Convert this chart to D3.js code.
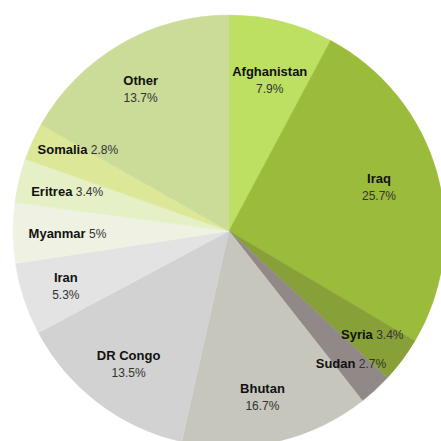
<!DOCTYPE html>
<html>
<head>
<meta charset="utf-8">
<script src="https://cdn.jsdelivr.net/npm/d3@7"></script>
<style>
  html, body { margin: 0; padding: 0; background: #ffffff; }
  svg { display: block; }
</style>
</head>
<body>
<svg id="chart" width="441" height="441"></svg>
<script>
// Categories in drawing order (clockwise from 12 o'clock)
const categories = ["Afghanistan", "Iraq", "Syria", "Sudan", "Bhutan", "DR Congo", "Iran", "Myanmar", "Eritrea", "Somalia", "Other"];
// Slice sizes as drawn in the picture (percent of the circle)
const sliceValues = [7.8, 25.7, 3.4, 2.5, 14.1, 13.7, 5.4, 4.5, 3.3, 2.8, 16.8];
// Percent labels as printed on the chart
const percentLabels = ["7.9%", "25.7%", "3.4%", "2.7%", "16.7%", "13.5%", "5.3%", "5%", "3.4%", "2.8%", "13.7%"];
// Whether the label is on one line (name + value) or two lines
const singleLine = [false, false, true, true, false, false, false, true, true, true, false];
const colors = ["#bddf62", "#9bbb3b", "#87a037", "#918888", "#c6c6bd", "#d2d2d2", "#e3e3e3", "#eff2e3", "#e5f0c6", "#dce797", "#cbdb98"];

// Layout: label placement (fraction of radius, small angle nudge in degrees)
const labelRadiusFrac = [0.727, 0.725, 0.817, 0.833, 0.778, 0.768, 0.796, 0.748, 0.772, 0.796, 0.778];
const labelAngleNudge = [1, -1, -1, 0, 1.3, 0, 0, -0.2, 0.4, 4, -1.5];

const svg = d3.select("#chart");
const cx = 229, cy = 231, R = 216;

const data = categories.map((c, i) => ({ name: c, value: sliceValues[i], pct: percentLabels[i], single: singleLine[i], color: colors[i], lr: labelRadiusFrac[i], ln: labelAngleNudge[i] }));

const pie = d3.pie().sort(null).value(d => d.value).startAngle(0).endAngle(2 * Math.PI);
const arcs = pie(data);
const arc = d3.arc().innerRadius(0).outerRadius(R);

const g = svg.append("g").attr("transform", `translate(${cx},${cy})`);

g.selectAll("path.slice")
  .data(arcs)
  .join("path")
  .attr("class", "slice")
  .attr("d", arc)
  .attr("fill", d => d.data.color)
  .attr("stroke", d => d.data.color)
  .attr("stroke-width", 0.5);

const fontFamily = "'Liberation Sans', Arial, sans-serif";
g.selectAll("text.label")
  .data(arcs)
  .join("text")
  .attr("class", "label")
  .attr("text-anchor", "middle")
  .attr("font-family", fontFamily)
  .each(function(d) {
    const a = (d.startAngle + d.endAngle) / 2 + d.data.ln * Math.PI / 180;
    const r = R * d.data.lr;
    const x = r * Math.sin(a), y = -r * Math.cos(a);
    const t = d3.select(this).attr("transform", `translate(${x},${y})`);
    if (d.data.single) {
      t.append("tspan").attr("x", 0).attr("y", 0).attr("dy", "0.35em")
        .attr("font-weight", "bold").attr("font-size", 13).attr("fill", "#111")
        .text(d.data.name);
      t.append("tspan").attr("font-size", 12).attr("fill", "#333")
        .text(" " + d.data.pct);
    } else {
      t.append("tspan").attr("x", 0).attr("y", -3)
        .attr("font-weight", "bold").attr("font-size", 13).attr("fill", "#111")
        .text(d.data.name);
      t.append("tspan").attr("x", 0).attr("y", 14)
        .attr("font-size", 12).attr("fill", "#333")
        .text(d.data.pct);
    }
  });
</script>
</body>
</html>
